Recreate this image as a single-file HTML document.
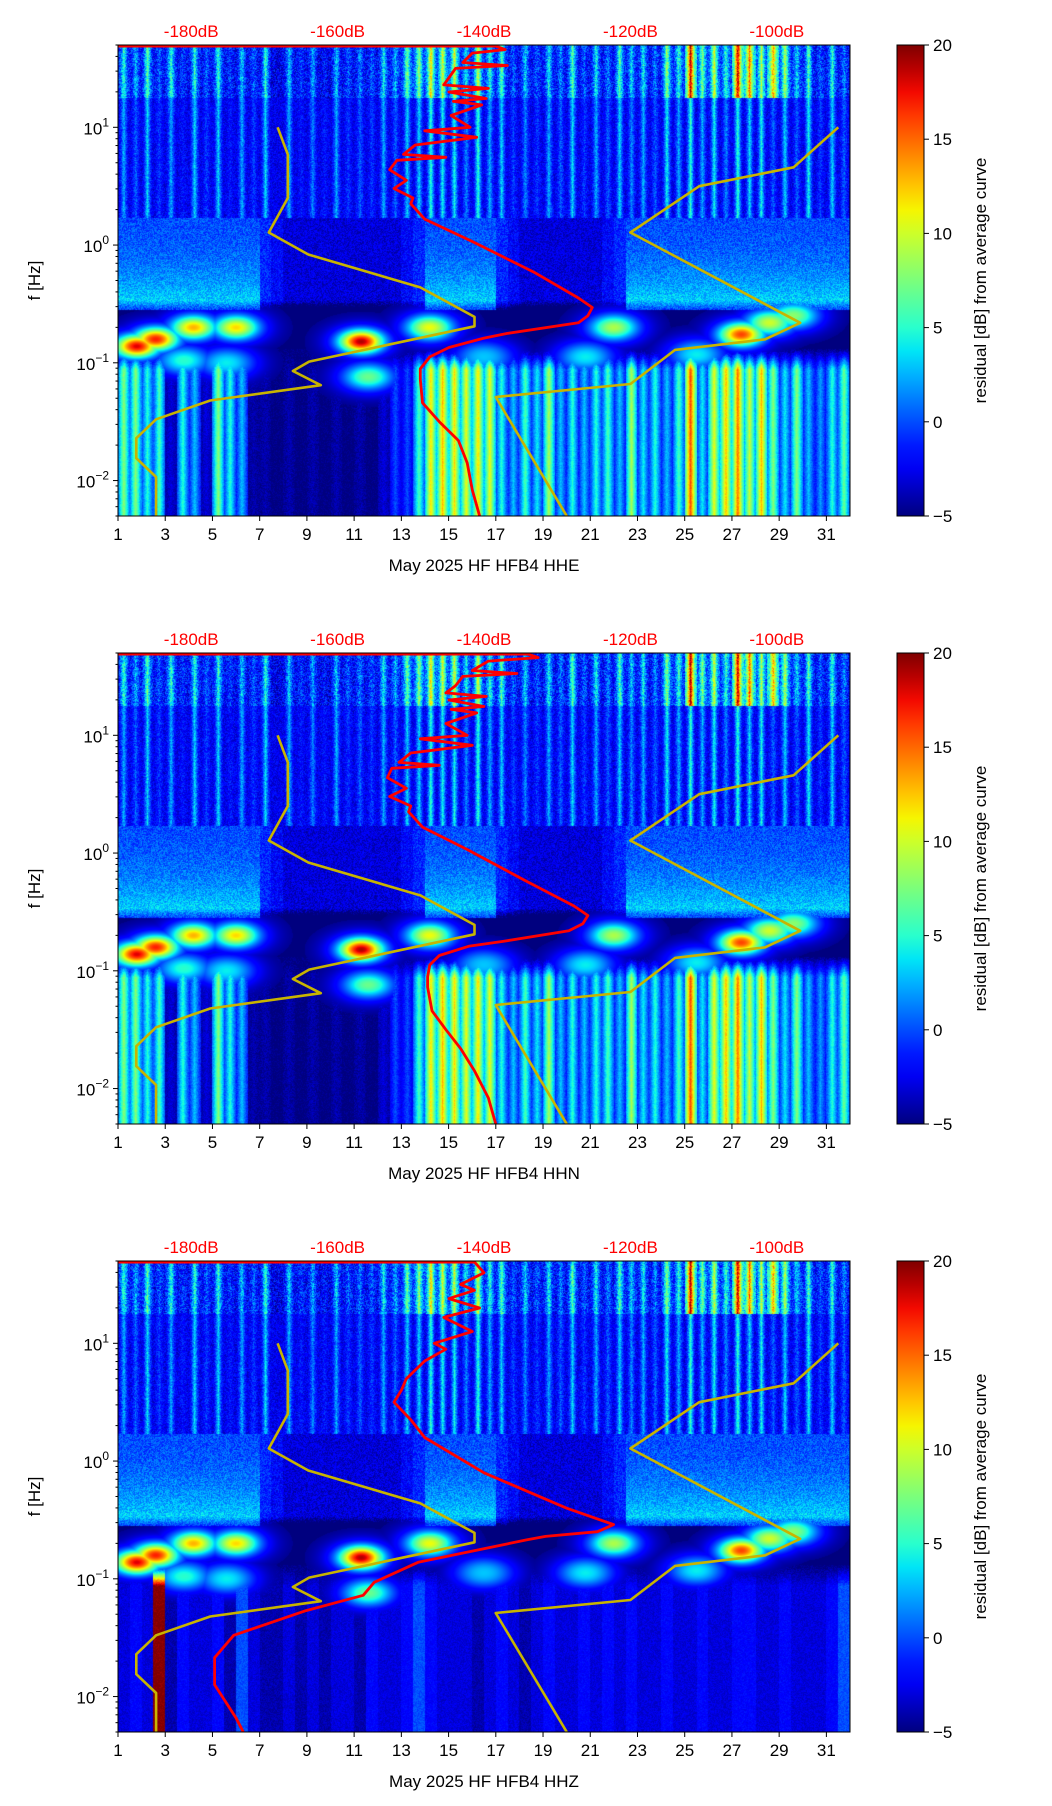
<!DOCTYPE html>
<html><head><meta charset="utf-8">
<style>
html,body{margin:0;padding:0;background:#fff;}
#root{position:relative;width:1052px;height:1806px;overflow:hidden;font-family:"Liberation Sans",sans-serif;}
canvas{position:absolute;}
svg{position:absolute;left:0;top:0;}
</style></head>
<body>
<div id="root">
<svg id="ov" width="1052" height="1806"></svg>
</div>
<script>
// ---------- data ----------
const panelTitles = ["May 2025 HF HFB4  HHE","May 2025 HF HFB4  HHN","May 2025 HF HFB4  HHZ"];
const xTicks = [1,3,5,7,9,11,13,15,17,19,21,23,25,27,29,31];
const dbTicks = [-180,-160,-140,-120,-100];
const cbTicks = [-5,0,5,10,15,20];
// half-day column residuals, low band (<0.1 Hz)
const lowBand12 = [8,8,5,6,-3,5,3,-3,8,5,3,-4,-4,-5,-4,-5,-4,-5,-4,-5,-4,-5,-3,0,0,6,12,13,12,11,12,11,5,3,6,4,9,3,5,3,5,6,3,9,4,5,3,6,16,4,11,13,15,10,13,8,4,8,3,2,5,7];
const lowBand3 = [-3,-2,-3,20,-4,-2,-3,-3,-2,-4,0,-3,-4,-4,-3,-4,-3,-4,-3,-3,-4,-2,-3,-3,-2,0,-2,-3,-3,-3,-4,-3,-2,-3,-4,-3,-2,-3,-3,-2,-3,-2,-3,-2,-3,-3,-2,-3,-3,-2,-3,-3,-2,-2,-3,-3,-2,-3,-3,-3,-2,0];
// high frequency (>1.7 Hz) stripe amplitudes per half day
const hfStripes = [5,3,6,2,5,1,6,2,6,1,5,2,6,0,5,1,4,1,5,2,3,2,5,3,6,6,8,7,7,4,8,5,6,2,4,2,5,3,6,2,5,3,6,4,5,3,7,5,8,5,7,4,8,6,7,3,6,3,7,2,6,3];
// extra boost at 20-50 Hz
const topBoost = [3,2,3,1,3,1,2,1,2,1,1,1,2,0,1,1,1,0,1,1,1,1,2,2,4,5,7,6,6,3,5,3,3,1,2,1,2,1,3,1,2,1,3,2,2,1,4,3,14,5,6,4,14,12,5,13,6,3,2,1,2,1];
// 0.3-1.7 Hz level per half day
const midBand = [0,0,0,0,0,0,0,0,0,0,0,0,-1,-2,-3,-3,-3,-3,-3,-3,-3,-3,-3,-3,-2,-1,0,0,0,0,0,0,-1,-2,-3,-3,-3,-3,-3,-3,-3,-2,-1,0,0,0,0,0,0,0,0,0,0,0,0,0,0,0,0,0,0,0];
// blobs: day, log10 f, residual
const blobDay = [1.8,2.6,4.2,6.0,11.3,14.2,22.0,27.4,28.6,29.6,11.6,3.8,5.6,20.8,16.5,25.5];
const blobLogF = [-0.86,-0.80,-0.70,-0.70,-0.82,-0.70,-0.70,-0.76,-0.66,-0.60,-1.12,-0.98,-1.0,-0.95,-0.95,-0.93];
const blobVal = [18,17,13,12,19,11,9,16,10,8,7,5,4,4,3,4];
// noise models (dB, log10 f)
const nlnmDb = [-168.2,-166.8,-166.8,-169.4,-164.0,-148.7,-141.3,-141.3,-163.9,-166.1,-162.3,-177.4,-184.8,-187.5,-187.5,-184.8,-184.8];
const nlnmLf = [1.0,0.77,0.40,0.107,-0.08,-0.36,-0.61,-0.69,-0.99,-1.07,-1.19,-1.32,-1.48,-1.64,-1.81,-1.97,-2.3];
const nhnmDb = [-91.6,-97.7,-110.6,-120.0,-96.8,-101.6,-113.9,-120.0,-138.4,-128.7];
const nhnmLf = [1.0,0.66,0.50,0.107,-0.66,-0.80,-0.89,-1.18,-1.29,-2.3];
// mean PSD curves (dB, log10 f)
const psd1Db = [-190,-138.4,-137.1,-141.6,-142.9,-136.8,-143.9,-144.8,-145.5,-139.4,-144.8,-139.7,-144.2,-140.3,-144.5,-141.9,-148.1,-141.0,-149.4,-151.0,-145.2,-151.9,-152.9,-150.6,-152.3,-149.7,-150.0,-148.1,-141.6,-133.2,-127.1,-125.2,-125.8,-127.1,-136.8,-140.0,-144.8,-147.4,-148.7,-148.7,-148.4,-146.1,-143.5,-142.3,-141.6,-140.6];
const psd1Lf = [1.69,1.69,1.66,1.63,1.55,1.525,1.5,1.42,1.36,1.33,1.3,1.245,1.22,1.19,1.1,1.0,0.97,0.915,0.85,0.77,0.745,0.72,0.64,0.55,0.48,0.4,0.35,0.22,0.03,-0.23,-0.45,-0.53,-0.6,-0.66,-0.75,-0.79,-0.87,-0.95,-1.05,-1.14,-1.34,-1.5,-1.66,-1.85,-2.08,-2.3];
const psd2Db = [-190,-134.0,-132.6,-139.4,-141.6,-135.5,-142.9,-143.9,-145.2,-139.7,-144.8,-140.0,-144.5,-141.0,-145.2,-142.3,-148.7,-141.6,-150.0,-151.6,-146.1,-152.6,-153.2,-150.6,-152.9,-150.0,-150.3,-148.4,-142.3,-134.5,-127.7,-125.8,-126.5,-128.4,-137.4,-142.0,-146.1,-147.4,-147.7,-147.7,-147.1,-145.2,-143.2,-141.3,-139.4,-138.4];
const psd2Lf = psd1Lf;
const psd3Db = [-190,-141.3,-140.0,-143.2,-141.3,-144.8,-140.6,-145.5,-141.6,-146.8,-145.2,-148.1,-150.6,-151.3,-152.3,-150.0,-148.1,-140.0,-128.7,-122.3,-124.5,-131.6,-134.2,-149.0,-155.0,-156.5,-164.3,-174.2,-176.8,-176.8,-173.9,-172.9];
const psd3Lf = [1.69,1.69,1.6,1.5,1.45,1.38,1.3,1.22,1.1,1.0,0.95,0.85,0.7,0.6,0.5,0.35,0.2,-0.1,-0.4,-0.54,-0.6,-0.64,-0.67,-0.86,-1.03,-1.14,-1.27,-1.48,-1.67,-1.9,-2.18,-2.3];
const psdDb = [psd1Db,psd2Db,psd3Db];
const psdLf = [psd1Lf,psd2Lf,psd3Lf];
// ---------- layout ----------
const AX_L=118, AX_W=732, AX_H=471, TOPS=[45,653,1261];
const D0=1, D1=32, LF0=Math.log10(0.005), LF1=Math.log10(50);
const DB0=-190, DB1=-90, CB_X=897, CB_W=27;
function xDay(d){return AX_L+(d-D0)/(D1-D0)*AX_W;}
function xDb(v){return AX_L+(v-DB0)/(DB1-DB0)*AX_W;}
function yLf(top,lf){return top+(LF1-lf)/(LF1-LF0)*AX_H;}
function interp(xs,ys,t){for(let i=1;i<xs.length;i++){if(t<=xs[i]){const a=(t-xs[i-1])/(xs[i]-xs[i-1]);return ys[i-1]+a*(ys[i]-ys[i-1]);}}return ys[ys.length-1];}
function jet(t){t=Math.max(0,Math.min(1,t));
 const r=interp([0,0.35,0.66,0.89,1],[0,0,1,1,0.5],t);
 const g=interp([0,0.125,0.375,0.64,0.91,1],[0,0,1,1,0,0],t);
 const b=interp([0,0.11,0.34,0.65,1],[0.5,1,1,0,0],t);
 return [r*255|0,g*255|0,b*255|0];}
function hash(i,j){let h=(i*374761393+j*668265263)|0;h=(h^(h>>>13))*1274126177|0;return ((h^(h>>>16))>>>0)/4294967296;}
function value(p,day,lf,i,j){
 let col=Math.min(61,Math.max(0,Math.floor((day-1)*2)));
 const frac=(day-1)*2-col;
 const prof0=Math.max(0,1-Math.abs(frac-0.5)*2.2);
 const prof=prof0*Math.sqrt(prof0);
 const n=(hash(i,j+p*1000)-0.5);
 let v;
 if(lf>0.23){
   v=-2.5+hfStripes[col]*prof+n*3;
   if(lf>1.25) v+=topBoost[col]*(0.5+0.5*prof)+n*2;
 } else if(lf>-0.55){
   const m=midBand[col];
   const r=(lf+0.55)/0.78;
   v=m+(m>-1?(1-r)*(1-r)*4:0)+n*3;
   if(lf<-0.47) v-= (-0.47-lf)*55;
 } else if(lf>-0.88){ v=-5; }
 else {
   const arr=p===2?lowBand3:lowBand12;
   const ramp=Math.min(1,(-0.88-lf)/0.18);
   const pk=p===2?1:(0.5+0.5*prof0);
   v=-5+(arr[col]+5)*ramp*pk+n*1.5;
 }
 for(let k=0;k<blobDay.length;k++){
   const dd=(day-blobDay[k])/0.8, dl=(lf-blobLogF[k])/0.085;
   const q=dd*dd+dl*dl;
   if(q<9){const e=Math.exp(-q);const bv=-5+(blobVal[k]+5)*e+ 6*Math.exp(-q/3.5)*(1-e); if(bv>v)v=bv;}
 }
 return v;
}
const NS='http://www.w3.org/2000/svg';
const svg=document.getElementById('ov');
const root=document.getElementById('root');
function mk(tag,attrs,parent){const e=document.createElementNS(NS,tag);for(const k in attrs)e.setAttribute(k,attrs[k]);(parent||svg).appendChild(e);return e;}
function txt(x,y,s,attrs,parent){const t=mk('text',Object.assign({x:x,y:y,'font-family':'Liberation Sans, sans-serif','font-size':16,fill:'#000'},attrs),parent);t.textContent=s;return t;}
function pathOf(dbs,lfs,top){let d='';for(let i=0;i<dbs.length;i++){d+=(i?'L':'M')+xDb(dbs[i]).toFixed(1)+','+yLf(top,lfs[i]).toFixed(1);}return d;}

for(let p=0;p<3;p++){
 const top=TOPS[p];
 const cv=document.createElement('canvas');
 cv.width=AX_W;cv.height=AX_H;
 cv.style.left=AX_L+'px';cv.style.top=top+'px';
 
 
 root.insertBefore(cv,svg);
 const ctx=cv.getContext('2d');const img=ctx.createImageData(AX_W,AX_H);
 for(let j=0;j<AX_H;j++){const lf=LF1-(j+0.5)/AX_H*(LF1-LF0);
  for(let i=0;i<AX_W;i++){const day=D0+(i+0.5)/AX_W*(D1-D0);
   const c=jet((value(p,day,lf,i,j)+5)/25);const k=(j*AX_W+i)*4;
   img.data[k]=c[0];img.data[k+1]=c[1];img.data[k+2]=c[2];img.data[k+3]=255;}}
 ctx.putImageData(img,0,0);
 const g=mk('g',{});
 
 
 const ln=mk('path',{d:pathOf(nlnmDb,nlnmLf,top),fill:'none',stroke:'#c8b400',"stroke-width":2.6,"stroke-linejoin":'round'},g);
 
 
 const hn=mk('path',{d:pathOf(nhnmDb,nhnmLf,top),fill:'none',stroke:'#c8b400',"stroke-width":2.6,"stroke-linejoin":'round'},g);
 
 
 const pc=mk('path',{d:pathOf(psdDb[p],psdLf[p],top),fill:'none',stroke:'#ff0000',"stroke-width":2.8,"stroke-linejoin":'round'},g);
 
 
 const fr=mk('rect',{x:AX_L,y:top,width:AX_W,height:AX_H,fill:'none',stroke:'#000','stroke-width':1},g);
 
 
 for(const d of xTicks){const x=xDay(d);
  mk('line',{x1:x,x2:x,y1:top+AX_H,y2:top+AX_H+5,stroke:'#000'},g);
  const t=txt(x,top+AX_H+24,String(d),{'text-anchor':'middle','font-size':17},g);
  
  }
 const xl=txt(AX_L+AX_W/2,top+AX_H+55,panelTitles[p],{'text-anchor':'middle','font-size':17},g);
 
 
 for(let e=-3;e<=1;e++){for(let m=1;m<10;m++){const lf=e+Math.log10(m);if(lf<LF0||lf>LF1)continue;
  const y=yLf(top,lf);mk('line',{x1:AX_L-(m===1?5:2.5),x2:AX_L,y1:y,y2:y,stroke:'#000'},g);
  if(m===1){const t=txt(AX_L-9,y+7,'10',{'text-anchor':'end','font-size':17},g);
   const s=mk('tspan',{dy:-8,'font-size':12},t);s.textContent=(e<0?'\u2212':'')+Math.abs(e);
   
   }}}
 const yt=txt(0,0,'f [Hz]',{'text-anchor':'middle','font-size':17,transform:'translate(40,'+(top+AX_H/2)+') rotate(-90)'},g);
 
 
 for(const v of dbTicks){const t=txt(xDb(v),top-8,v+'dB',{'text-anchor':'middle',fill:'#ff0000','font-size':17},g);
  
  }
 const gid='jg'+p;const defs=mk('defs',{},g);const lg=mk('linearGradient',{id:gid,x1:0,y1:1,x2:0,y2:0},defs);
 for(let s=0;s<=20;s++){const c=jet(s/20);mk('stop',{offset:s/20,'stop-color':'rgb('+c.join(',')+')'},lg);}
 const cb=mk('rect',{x:CB_X,y:top,width:CB_W,height:AX_H,fill:'url(#'+gid+')',stroke:'#000','stroke-width':1},g);
 
 
 for(const v of cbTicks){const y=top+AX_H-(v+5)/25*AX_H;
  mk('line',{x1:CB_X+CB_W,x2:CB_X+CB_W+5,y1:y,y2:y,stroke:'#000'},g);
  const t=txt(CB_X+CB_W+9,y+6,(v<0?'\u2212':'')+Math.abs(v),{'font-size':17},g);
  
  }
 const cl=txt(0,0,'residual [dB] from average curve',{'text-anchor':'middle','font-size':17,transform:'translate(986,'+(top+AX_H/2)+') rotate(-90)'},g);
 
 
}
</script>
</body></html>
